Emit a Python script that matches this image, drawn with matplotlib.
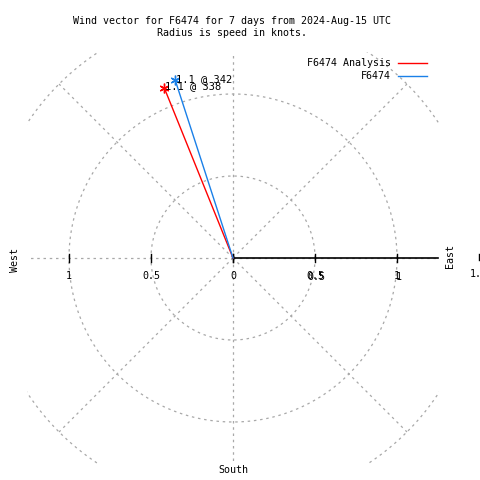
#!/usr/bin/env python3

import numpy as np
import matplotlib
matplotlib.use("Agg")
import matplotlib.pyplot as plt
from matplotlib.patches import Rectangle

# ----------------------------------------------------------
# data
# ----------------------------------------------------------
series_names = ["F6474 Analysis", "F6474"]
series_colors = ["#ff0000", "#1a80e8"]
speeds = [1.12, 1.14]          # knots
directions = [338, 342]        # degrees, clockwise from north
label_dirs = [338, 342]

ring_radii = [0.5, 1.0, 1.5]
spoke_angles = [0, 45, 90, 135, 180, 225, 270, 315]
tick_values = [0, 0.5, 1.0]
tick_labels = ["0", "0.5", "1"]

title = "Wind vector for F6474 for 7 days from 2024-Aug-15 UTC\nRadius is speed in knots."

# ----------------------------------------------------------
# geometry (pixels -> knots)
# ----------------------------------------------------------
W = H = 480
CX, CY = 233, 258
PX = 164.0          # pixels per knot
BOX = 1.255         # plot box half size in knots

def px2x(px):
    return (px - CX) / PX

def py2y(py):
    return (CY - py) / PX

fig = plt.figure(figsize=(4.8, 4.8), dpi=100)
ax = fig.add_axes([0, 0, 1, 1])
ax.set_xlim(px2x(0), px2x(W))
ax.set_ylim(py2y(H), py2y(0))
ax.axis("off")

mono = "DejaVu Sans Mono"
fs = 7.2
grey = "#a8a8a8"
dash = (0, (2, 3))

clip = Rectangle((-BOX, -BOX), 2 * BOX, 2 * BOX, transform=ax.transData,
                 fill=False, visible=False)
ax.add_patch(clip)

# rings
t = np.linspace(0, 2 * np.pi, 721)
for r in ring_radii:
    ln, = ax.plot(r * np.cos(t), r * np.sin(t), color=grey, lw=0.9, ls=dash)
    ln.set_clip_path(clip)

# spokes
for a in spoke_angles:
    rad = np.deg2rad(a)
    if a % 90 == 0:
        L = BOX
    else:
        L = 1.5
    ln, = ax.plot([0, L * np.sin(rad)], [0, L * np.cos(rad)],
                  color=grey, lw=0.9, ls=dash)
    ln.set_clip_path(clip)

# x axis (east side solid)
ax.plot([0, 1.25], [0, 0], color="black", lw=1.2)
tk = 4.0 / PX
for v in tick_values:
    ax.plot([v, v], [-tk, tk], color="black", lw=1.0)
    ax.plot([-v, -v], [-tk, tk], color="black", lw=1.0)
ax.plot([1.5, 1.5], [-tk * 0.6, tk * 1.1], color="black", lw=1.0, clip_on=False)

ly = py2y(276)
for v, s in zip(tick_values, tick_labels):
    ax.text(-v, ly, s, fontsize=fs, family=mono, ha="center", va="center")
    if v > 0:
        ax.text(v, ly, s, fontsize=fs, family=mono, ha="center", va="center")
        ax.text(v + 1.5 / PX, ly - 1.0 / PX, s, fontsize=fs, family=mono,
                ha="center", va="center")
ax.text(1.5, py2y(274), "1.5", fontsize=fs, family=mono, ha="center", va="center")

# compass labels
ax.text(px2x(450), py2y(256), "East", fontsize=fs, family=mono, rotation=90,
        ha="center", va="center")
ax.text(px2x(15), py2y(260), "West", fontsize=fs, family=mono, rotation=90,
        ha="center", va="center")
ax.text(0, py2y(470), "South", fontsize=fs, family=mono, ha="center", va="center")

# vectors
for name, c, s, d, ld in zip(series_names, series_colors, speeds, directions, label_dirs):
    rad = np.deg2rad(d)
    x, y = s * np.sin(rad), s * np.cos(rad)
    ax.plot([0, x], [0, y], color=c, lw=1.0)
    ax.plot([x], [y], marker=(6, 2, 0), color=c, ms=7, mew=1.0)
    ax.text(x + 1.0 / PX, y + 1.5 / PX, f"{s:.1f} @ {ld}", fontsize=fs + 0.3,
            family=mono, ha="left", va="center")

# legend
for i, (name, c) in enumerate(zip(series_names, series_colors)):
    yy = py2y(63 + 13 * i)
    ax.text(px2x(391), yy, name, fontsize=fs, family=mono, ha="right", va="center")
    ax.plot([px2x(398), px2x(427)], [yy, yy], color=c, lw=1.0)

# title
fig.text(232 / W, 1 - 27 / H, title, fontsize=fs, family=mono,
         ha="center", va="center", linespacing=1.25)

fig.savefig("out.png", dpi=100)
